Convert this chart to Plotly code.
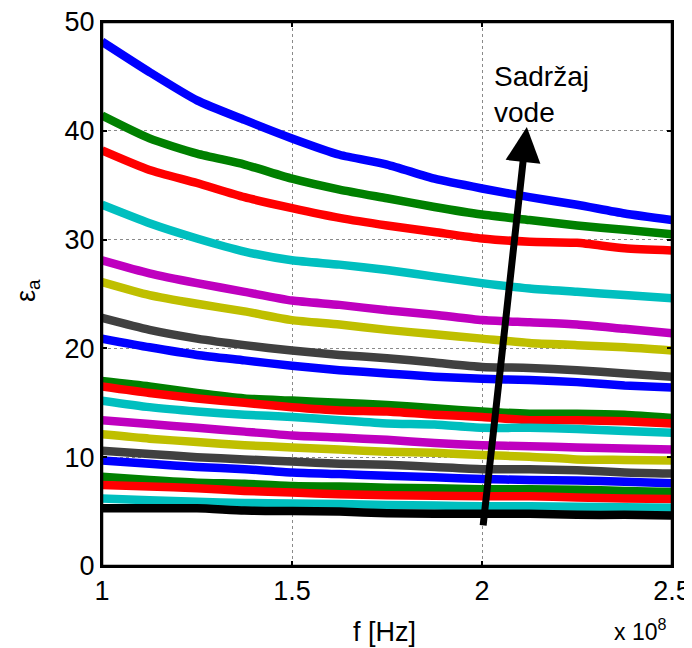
import plotly.graph_objects as go

# frequency in units of 1e8 Hz
freq = [1.0, 1.125, 1.25, 1.375, 1.5, 1.625, 1.75, 1.875, 2.0, 2.125, 2.25, 2.375, 2.5]

# permittivity curves (top to bottom)
eps_curves = [
    [48.2, 45.4, 42.8, 41.0, 39.3, 37.8, 36.9, 35.6, 34.7, 33.9, 33.2, 32.4, 31.8],
    [41.4, 39.3, 37.9, 36.9, 35.6, 34.6, 33.8, 33.0, 32.3, 31.8, 31.3, 30.9, 30.5],
    [38.2, 36.4, 35.2, 33.9, 32.9, 32.0, 31.3, 30.7, 30.1, 29.8, 29.7, 29.2, 29.0],
    [33.2, 31.5, 30.1, 28.9, 28.1, 27.7, 27.2, 26.6, 26.0, 25.5, 25.2, 24.9, 24.6],
    [28.1, 26.9, 26.0, 25.2, 24.4, 24.0, 23.5, 23.1, 22.6, 22.4, 22.2, 21.8, 21.4],
    [26.1, 24.9, 24.1, 23.4, 22.6, 22.2, 21.7, 21.3, 20.9, 20.5, 20.3, 20.1, 19.8],
    [22.8, 21.7, 20.9, 20.3, 19.8, 19.4, 19.1, 18.7, 18.3, 18.2, 18.0, 17.7, 17.4],
    [20.9, 20.1, 19.4, 18.9, 18.4, 18.0, 17.7, 17.4, 17.2, 17.1, 16.9, 16.6, 16.4],
    [17.0, 16.5, 15.9, 15.4, 15.2, 15.0, 14.8, 14.5, 14.2, 14.0, 14.0, 13.9, 13.6],
    [16.5, 15.9, 15.4, 15.0, 14.6, 14.3, 14.2, 13.9, 13.7, 13.4, 13.4, 13.3, 13.1],
    [15.2, 14.6, 14.2, 13.9, 13.7, 13.4, 13.1, 13.0, 12.7, 12.7, 12.6, 12.4, 12.25],
    [13.4, 13.05, 12.7, 12.35, 12.0, 11.8, 11.6, 11.3, 11.1, 11.0, 10.9, 10.8, 10.7],
    [12.1, 11.7, 11.4, 11.1, 10.9, 10.7, 10.5, 10.4, 10.2, 10.05, 9.8, 9.75, 9.7],
    [10.6, 10.3, 10.0, 9.8, 9.6, 9.4, 9.3, 9.1, 8.9, 8.9, 8.8, 8.6, 8.5],
    [9.7, 9.4, 9.1, 8.9, 8.6, 8.45, 8.3, 8.15, 8.0, 7.9, 7.85, 7.75, 7.6],
    [8.2, 7.9, 7.65, 7.55, 7.35, 7.3, 7.2, 7.15, 7.05, 7.05, 7.0, 6.9, 6.8],
    [7.45, 7.3, 7.15, 6.9, 6.75, 6.6, 6.5, 6.45, 6.4, 6.4, 6.3, 6.2, 6.15],
    [6.2, 6.05, 5.9, 5.8, 5.75, 5.7, 5.6, 5.55, 5.5, 5.5, 5.45, 5.4, 5.35],
    [5.3, 5.3, 5.3, 5.1, 5.05, 5.0, 4.85, 4.8, 4.8, 4.8, 4.7, 4.7, 4.65],
]

line_colors = [
    "#0000FF", "#008000", "#FF0000", "#00BFBF", "#BF00BF", "#BFBF00", "#404040",
    "#0000FF", "#008000", "#FF0000", "#00BFBF", "#BF00BF", "#BFBF00", "#404040",
    "#0000FF", "#008000", "#FF0000", "#00BFBF", "#000000",
]

x_ticks = [1, 1.5, 2, 2.5]
x_ticktext = ["1", "1.5", "2", "2.5"]
y_ticks = [0, 10, 20, 30, 40, 50]

arrow_start = (2.0026, 3.6)
arrow_end = (2.118, 40.35)

FONT_FAMILY = "Liberation Sans, Arial, sans-serif"

fig = go.Figure()
for vals, col in zip(eps_curves, line_colors):
    fig.add_trace(go.Scatter(x=freq, y=vals, mode="lines",
                             line=dict(color=col, width=8.5, shape="spline", smoothing=0.6),
                             showlegend=False))

font = dict(family=FONT_FAMILY, size=27, color="black")

axis_common = dict(
    showline=True, linecolor="black", linewidth=2, mirror="ticks",
    ticks="inside", ticklen=5, tickcolor="black", tickwidth=1.5,
    showgrid=True, gridcolor="#8a8a8a", griddash="dot", gridwidth=1,
    zeroline=False, tickfont=font,
    ticklabeloverflow="allow",
)

# page body has an 8px margin, so the figure is sized to fit the window
fig.update_layout(
    width=684, height=640,
    margin=dict(l=94, r=20, t=14, b=82),
    plot_bgcolor="white", paper_bgcolor="white",
    font=font,
    xaxis=dict(range=[1, 2.5], tickvals=x_ticks, ticktext=x_ticktext,
               automargin="bottom", **axis_common),
    yaxis=dict(range=[0, 50], tickvals=y_ticks, automargin="left", **axis_common),
)

# frame box around the plotting area
fig.add_shape(type="rect", xref="paper", yref="paper", x0=0, y0=0, x1=1, y1=1,
              line=dict(color="black", width=2.5), layer="above")

# axis titles
fig.add_annotation(x=0.495, y=-0.121, xref="paper", yref="paper",
                   xanchor="center", yanchor="middle", text="f [Hz]",
                   showarrow=False, font=font)
fig.add_annotation(x=-0.13, y=0.507, xref="paper", yref="paper",
                   xanchor="center", yanchor="middle", text="ε<sub>a</sub>",
                   textangle=-90, showarrow=False, font=font)

# arrow
fig.add_annotation(x=arrow_end[0], y=arrow_end[1], ax=arrow_start[0], ay=arrow_start[1],
                   xref="x", yref="y", axref="x", ayref="y",
                   showarrow=True, arrowhead=2, arrowsize=1.0, arrowwidth=7,
                   arrowcolor="black", text="")

fig.add_annotation(x=2.026, y=43.3, xref="x", yref="y", xanchor="left", yanchor="middle",
                   text="Sadržaj<br>vode", showarrow=False, align="left",
                   font=dict(family=FONT_FAMILY, size=28, color="black"))

fig.add_annotation(x=0.993, y=0, xref="paper", yref="paper", xanchor="right", yanchor="top",
                   yshift=-47, text="x 10<sup>8</sup>", showarrow=False,
                   font=dict(family=FONT_FAMILY, size=23, color="black"))

fig.write_html("out.html")
